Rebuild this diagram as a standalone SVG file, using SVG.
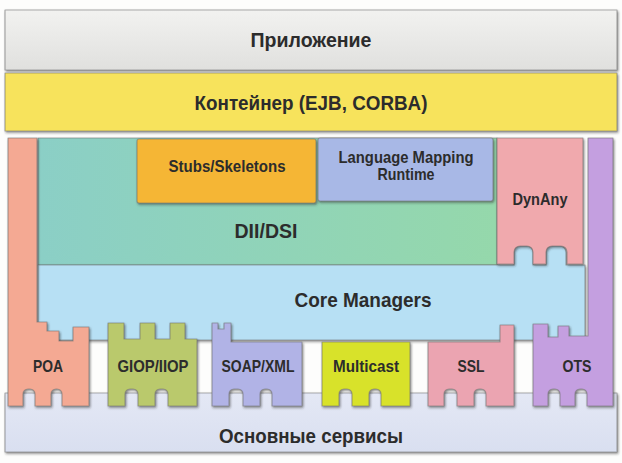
<svg xmlns="http://www.w3.org/2000/svg" width="622" height="463" viewBox="0 0 622 463">
<defs>
<filter id="sh" x="-10%" y="-10%" width="120%" height="130%">
<feDropShadow dx="1" dy="1.5" stdDeviation="1.2" flood-color="#2a2a2a" flood-opacity="0.55"/>
</filter>
<linearGradient id="gTop" x1="0" y1="0" x2="0" y2="1"><stop offset="0" stop-color="#f2f2f0"/><stop offset="1" stop-color="#e0e0de"/></linearGradient>
<linearGradient id="gTeal" x1="0" y1="0" x2="1" y2="0"><stop offset="0" stop-color="#8bcfc6"/><stop offset="1" stop-color="#95d8ab"/></linearGradient>
<linearGradient id="gBase" x1="0" y1="0" x2="0" y2="1"><stop offset="0" stop-color="#e4e8f5"/><stop offset="1" stop-color="#d9dff0"/></linearGradient>
<style>
.pc{stroke:#6f6f6f;stroke-opacity:0.55;stroke-width:1.2;stroke-linejoin:round;filter:url(#sh)}
.t{font-family:"Liberation Sans",Arial,sans-serif;font-weight:bold;text-anchor:middle;fill:#2c2c2c}
</style>
</defs>
<rect width="622" height="463" fill="#fdfdfc"/>
<g id="prilozhenie">
<rect class="pc" x="5" y="10" width="612" height="60" fill="url(#gTop)"/>
<text class="t" x="311" y="47" font-size="20" textLength="121" lengthAdjust="spacingAndGlyphs">Приложение</text>
</g>
<g id="container">
<rect class="pc" x="5" y="73" width="612" height="58" fill="#f7e35c"/>
<text class="t" x="311" y="110" font-size="20" textLength="233" lengthAdjust="spacingAndGlyphs">Контейнер (EJB, CORBA)</text>
</g>
<g id="dii-dsi">
<rect class="pc" x="38" y="138" width="459" height="127" fill="url(#gTeal)"/>
<text class="t" x="266" y="238" font-size="21" fill="#123b3a" textLength="63" lengthAdjust="spacingAndGlyphs">DII/DSI</text>
</g>
<g id="stubs">
<rect class="pc" x="137" y="139" width="179" height="64" rx="2" fill="#f5b635"/>
<text class="t" x="227" y="172" font-size="16.5" textLength="117" lengthAdjust="spacingAndGlyphs">Stubs/Skeletons</text>
</g>
<g id="lmr">
<rect class="pc" x="318" y="138" width="175" height="63" rx="2" fill="#a8b8e6"/>
<text class="t" x="406" y="163" font-size="16.5" fill="#263050" textLength="135" lengthAdjust="spacingAndGlyphs">Language Mapping</text>
<text class="t" x="406" y="180" font-size="16.5" fill="#263050" textLength="57" lengthAdjust="spacingAndGlyphs">Runtime</text>
</g>
<g id="base">
<rect class="pc" x="5" y="393" width="612" height="59" fill="url(#gBase)"/>
<text class="t" x="311" y="443" font-size="20" textLength="184" lengthAdjust="spacingAndGlyphs">Основные сервисы</text>
</g>
<g id="core-managers">
<path class="pc" fill="#b7e0f4" d="M38,265 H514 V252 A6,6 0 0 1 520,246 H527 A6,6 0 0 1 533,252 V265 H546 V252 A6,6 0 0 1 552,246 H560 A6,6 0 0 1 566,252 V265 H585 V340 H38 Z"/>
<text class="t" x="363" y="307" font-size="21" fill="#183a4a" textLength="137" lengthAdjust="spacingAndGlyphs">Core Managers</text>
</g>
<g id="dynany">
<path class="pc" fill="#f0a9ad" d="M497,138 H583 V264 H567 V252 A6,6 0 0 0 561,246 H552 A6,6 0 0 0 546,252 V264 H533 V252 A6,6 0 0 0 527,246 H520 A6,6 0 0 0 514,252 V264 H497 Z"/>
<text class="t" x="540" y="205" font-size="16.5" fill="#3a2024" textLength="55" lengthAdjust="spacingAndGlyphs">DynAny</text>
</g>
<g id="ots">
<path class="pc" fill="#c49fe0" d="M533,324 H548 V337 H558 V326 H569 V336 H588 V138 H613 V406 H587 V394 A5,5 0 0 0 582,389 H580 A5,5 0 0 0 575,394 V406 H560 V394 A5,5 0 0 0 555,389 H553 A5,5 0 0 0 548,394 V406 H533 Z"/>
<text class="t" x="577" y="372" font-size="16.5" textLength="29" lengthAdjust="spacingAndGlyphs">OTS</text>
</g>
<g id="poa">
<path class="pc" fill="#f4a993" d="M8,138 H37 V322 H47 V331 H59 V341 H73 V327 H89 V406 H62 V394 A5,5 0 0 0 57,389 H56 A5,5 0 0 0 51,394 V406 H35 V394 A5,5 0 0 0 30,389 H28 A5,5 0 0 0 23,394 V406 H8 Z"/>
<text class="t" x="48" y="372" font-size="16.5" textLength="30" lengthAdjust="spacingAndGlyphs">POA</text>
</g>
<g id="giop-iiop">
<path class="pc" fill="#bac96c" d="M108,323 H124 V339 H140 V323 H155 V339 H170 V323 H185 V339 H197 V406 H168 V394 A5,5 0 0 0 163,389 H160 A5,5 0 0 0 155,394 V406 H138 V394 A5,5 0 0 0 133,389 H130 A5,5 0 0 0 125,394 V406 H108 Z"/>
<text class="t" x="153" y="372" font-size="16.5" textLength="71" lengthAdjust="spacingAndGlyphs">GIOP/IIOP</text>
</g>
<g id="soap-xml">
<path class="pc" fill="#b1b3e6" d="M212,323 H218 V329 H224 V323 H231 V342 H302 V406 H272 V394 A5,5 0 0 0 267,389 H265 A5,5 0 0 0 260,394 V406 H243 V394 A5,5 0 0 0 238,389 H234 A5,5 0 0 0 229,394 V406 H212 Z"/>
<text class="t" x="258" y="372" font-size="16.5" textLength="73" lengthAdjust="spacingAndGlyphs">SOAP/XML</text>
</g>
<g id="multicast">
<path class="pc" fill="#d8e22c" d="M322,342 H410 V406 H381 V394 A5,5 0 0 0 376,389 H374 A5,5 0 0 0 369,394 V406 H352 V394 A5,5 0 0 0 347,389 H344 A5,5 0 0 0 339,394 V406 H322 Z"/>
<text class="t" x="366" y="372" font-size="16.5" textLength="66" lengthAdjust="spacingAndGlyphs">Multicast</text>
</g>
<g id="ssl">
<path class="pc" fill="#eba4b1" d="M428,342 H500 V325 H514 V406 H486 V394 A5,5 0 0 0 481,389 H479 A5,5 0 0 0 474,394 V406 H457 V394 A5,5 0 0 0 452,389 H449 A5,5 0 0 0 444,394 V406 H428 Z"/>
<text class="t" x="471" y="372" font-size="16.5" textLength="27" lengthAdjust="spacingAndGlyphs">SSL</text>
</g>
<g id="connectors"/>
</svg>
